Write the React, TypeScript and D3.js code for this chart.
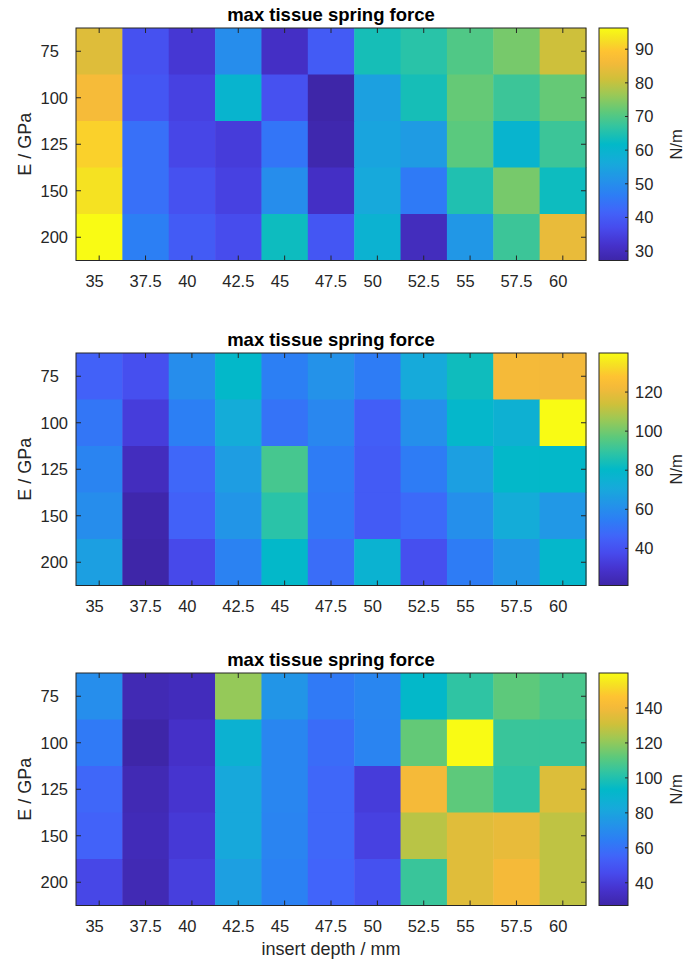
import React from 'react'
import * as d3 from 'd3'

// insert depth (columns) and Young's modulus (rows)
const depths = ['35', '37.5', '40', '42.5', '45', '47.5', '50', '52.5', '55', '57.5', '60']
const moduli = ['75', '100', '125', '150', '200']

// max tissue spring force, N/m, one row per modulus
const forceA = [
  [83, 38, 33, 50, 31, 40, 64, 66, 70, 73.5, 81],
  [86.5, 39, 35, 60, 38, 27.2, 54, 64, 72, 68, 72],
  [91, 44, 36, 34, 45, 28, 55, 53, 71, 60, 68],
  [93, 44, 38, 35, 50, 31, 56, 46, 65, 73.5, 63],
  [96.3, 47, 40, 37, 63, 39, 59, 30, 52, 68, 84.5],
]
const forceB = [
  [45, 39, 60, 80, 55, 62, 54, 71, 83, 123, 122],
  [52, 33, 55, 72, 51, 58, 44, 61, 79, 75, 140],
  [57, 26, 47, 66, 93, 54, 43, 54, 67, 80, 80],
  [60, 22, 45, 63, 88, 53, 43, 48, 61, 72, 64],
  [67, 21, 37, 56, 80, 49, 76, 39, 54, 63, 79],
]
const forceC = [
  [71, 30, 32, 121, 74, 63, 68, 93, 103, 112, 108],
  [63, 27, 35, 88, 68, 58, 67, 113, 160, 105, 105],
  [56, 30, 37, 82, 68, 56, 40, 141, 112, 103, 134],
  [54, 31, 39, 82, 67, 56, 42, 127, 135, 137, 128],
  [44, 30, 41, 78, 66, 55, 48, 105, 135, 141, 128],
]
const barTicksA = [30, 40, 50, 60, 70, 80, 90]
const barTicksB = [40, 60, 80, 100, 120]
const barTicksC = [40, 60, 80, 100, 120, 140]

// parula-like colormap
const parula = [
  [0.0, '#3e26a8'], [0.07, '#4632cd'], [0.14, '#474bed'], [0.21, '#4164fa'],
  [0.28, '#2d7df5'], [0.35, '#2394e8'], [0.42, '#16aada'], [0.5, '#02b9c8'],
  [0.57, '#2ec4a4'], [0.64, '#5ec97a'], [0.71, '#98c957'], [0.78, '#cfc03a'],
  [0.85, '#f4b93a'], [0.9, '#fec332'], [0.95, '#f5e123'], [1.0, '#f9fb14'],
]
const cmap = d3.scaleLinear<string>()
  .domain(parula.map(d => d[0] as number))
  .range(parula.map(d => d[1] as string))
  .interpolate(d3.interpolateRgb)

const font = 'Liberation Sans, Arial, Helvetica, sans-serif'
const axisColor = '#262626'
const left = 76, right = 586, plotH = 232.5
const barX = 599, barW = 29

const Panel = ({ top, data, barTicks, id }: { top: number, data: number[][], barTicks: number[], id: string }) => {
  const x = d3.scaleBand().domain(depths).range([left, right])
  const y = d3.scaleBand().domain(moduli).range([top, top + plotH])
  const ext = d3.extent(data.flat()) as [number, number]
  const norm = d3.scaleLinear().domain(ext).range([0, 1])
  const by = d3.scaleLinear().domain(ext).range([top + plotH, top])
  const stops = d3.range(0, 1.0001, 0.02)
  const tick = 5
  return (
    <g>
      <defs>
        <linearGradient id={id} x1="0" y1="1" x2="0" y2="0">
          {stops.map(s => <stop key={s} offset={s} stopColor={cmap(s)} />)}
        </linearGradient>
      </defs>
      {data.map((row, i) => row.map((v, j) => (
        <rect key={`${i}-${j}`} x={x(depths[j])} y={y(moduli[i])}
          width={x.bandwidth() + 0.5} height={y.bandwidth() + 0.5} fill={cmap(norm(v))} />
      )))}
      <rect x={left} y={top} width={right - left} height={plotH} fill="none" stroke={axisColor} strokeWidth={1} />
      {depths.map(d => {
        const cx = x(d)! + x.bandwidth() / 2
        return (
          <g key={d}>
            <line x1={cx} x2={cx} y1={top + plotH} y2={top + plotH - tick} stroke={axisColor} />
            <line x1={cx} x2={cx} y1={top} y2={top + tick} stroke={axisColor} />
            <text x={cx} y={top + plotH + 26} textAnchor="middle" fontSize={16.5} fill={axisColor}
              style={{ whiteSpace: 'pre' }}>{d.padEnd(4, '\u00a0')}</text>
          </g>
        )
      })}
      {moduli.map(m => {
        const cy = y(m)! + y.bandwidth() / 2
        return (
          <g key={m}>
            <line x1={left} x2={left + tick} y1={cy} y2={cy} stroke={axisColor} />
            <line x1={right} x2={right - tick} y1={cy} y2={cy} stroke={axisColor} />
            <text x={68} y={cy + 6} textAnchor="end" fontSize={16.5} fill={axisColor}
              style={{ whiteSpace: 'pre' }}>{m + '\u00a0\u00a0'.repeat(3 - m.length)}</text>
          </g>
        )
      })}
      <text x={331} y={top - 7} textAnchor="middle" fontSize={18.5} fontWeight="bold" fill="#000">
        max tissue spring force
      </text>
      <text transform={`translate(31,${top + plotH / 2}) rotate(-90)`} textAnchor="middle" fontSize={18} fill={axisColor}>
        E / GPa
      </text>
      <rect x={barX} y={top} width={barW} height={plotH} fill={`url(#${id})`} stroke={axisColor} strokeWidth={1} />
      {barTicks.map(t => (
        <g key={t}>
          <line x1={barX + barW} x2={barX + barW - 3} y1={by(t)} y2={by(t)} stroke={axisColor} />
          <text x={635} y={by(t) + 6} fontSize={16.5} fill={axisColor}>{t}</text>
        </g>
      ))}
      <text transform={`translate(682,${top + plotH / 2}) rotate(-90)`} textAnchor="middle" fontSize={16.5} fill={axisColor}>
        N/m
      </text>
    </g>
  )
}

export default function App() {
  return (
    <svg width={686} height={965} style={{ position: 'absolute', left: 0, top: 0, background: '#fff', fontFamily: font }}>
      <rect width={686} height={965} fill="#fff" />
      <Panel top={28} data={forceA} barTicks={barTicksA} id="cbA" />
      <Panel top={353} data={forceB} barTicks={barTicksB} id="cbB" />
      <Panel top={673} data={forceC} barTicks={barTicksC} id="cbC" />
      <text x={331} y={955} textAnchor="middle" fontSize={18} fill={axisColor}>insert depth / mm</text>
    </svg>
  )
}
